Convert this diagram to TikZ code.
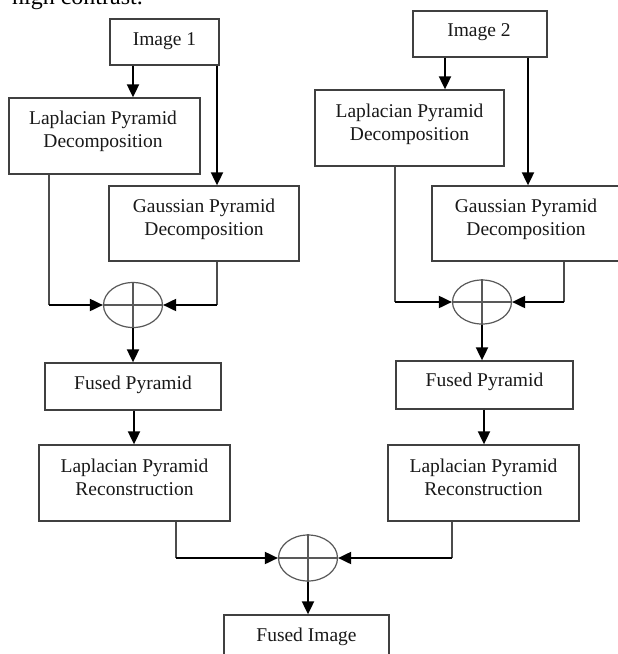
\documentclass[tikz,border=0pt]{standalone}
\usepackage{fontspec}
\setmainfont{Liberation Serif}
\usetikzlibrary{arrows.meta,shapes.geometric}
\tikzset{
  box/.style={draw=black!75, line width=1.3pt, inner sep=0pt, rectangle},
  lbl/.style={font=\fontsize{19.5}{23}\selectfont, align=center, inner sep=0pt, text=black!90},
  sumnode/.style={draw=black!65, line width=1.2pt, ellipse, inner sep=0pt, minimum width=59pt, minimum height=45pt},
  cross/.style={draw=black!65, line width=1.2pt},
  arr/.style={line width=1.9pt, black, -{Triangle[length=13pt,width=12pt]}},
  plain/.style={line width=1.3pt, black!70}
}
\begin{document}
\begin{tikzpicture}[x=1pt,y=-1pt]
\useasboundingbox (0,0) rectangle (618,654);
\clip (0,0) rectangle (618,654);
\fill[white] (0,0) rectangle (618,654);
% cut-off caption line above the figure
\node[font=\fontsize{24}{28}\selectfont, anchor=base east, inner sep=0pt] (cap) at (143,4) {high contrast.};
% boxes
\node[box, minimum width=109pt, minimum height=46pt] (img1) at (164.5,42) {};
\node[box, minimum width=134pt, minimum height=46pt] (img2) at (480,34) {};
\node[box, minimum width=191pt, minimum height=76pt] (lpd1) at (104.5,136) {};
\node[box, minimum width=190pt, minimum height=75pt] (gpd1) at (204,223.5) {};
\node[box, minimum width=189pt, minimum height=76pt] (lpd2) at (409.5,128) {};
\node[box, minimum width=190pt, minimum height=75pt] (gpd2) at (527,223.5) {};
\node[box, minimum width=176pt, minimum height=47pt] (fp1) at (133,386.5) {};
\node[box, minimum width=177pt, minimum height=48pt] (fp2) at (484.5,385) {};
\node[box, minimum width=191pt, minimum height=76pt] (lpr1) at (134.5,483) {};
\node[box, minimum width=191pt, minimum height=76pt] (lpr2) at (483.5,483) {};
\node[box, minimum width=165pt, minimum height=48pt] (fi) at (306.5,639) {};
% texts
\node[lbl] (t-img1) at (164.5,41) {Image 1};
\node[lbl] (t-img2) at (479,32) {Image 2};
\node[lbl] (t-lpd1) at (103,131) {Laplacian Pyramid\\Decomposition};
\node[lbl] (t-gpd1) at (204,219.5) {Gaussian Pyramid\\Decomposition};
\node[lbl] (t-lpd2) at (409.5,124) {Laplacian Pyramid\\Decomposition};
\node[lbl] (t-gpd2) at (526,219.5) {Gaussian Pyramid\\Decomposition};
\node[lbl] (t-fp1) at (133,385) {Fused Pyramid};
\node[lbl] (t-fp2) at (484.5,382) {Fused Pyramid};
\node[lbl] (t-lpr1) at (134.5,477.5) {Laplacian Pyramid\\Reconstruction};
\node[lbl] (t-lpr2) at (483.5,477.5) {Laplacian Pyramid\\Reconstruction};
\node[lbl] (t-fi) at (306.5,637) {Fused Image};
% summing junctions
\node[sumnode] (e1) at (133,305) {};
\node[sumnode, minimum height=44pt] (e2) at (482,302) {};
\node[sumnode, minimum height=46pt] (e3) at (308,558) {};
\foreach \e in {e1,e2,e3}{
  \draw[cross] (\e.north) -- (\e.south);
  \draw[cross] (\e.west) -- (\e.east);
}
% x positions of connectors
\coordinate (x133) at (133,0);
\coordinate (x134) at (134,0);
\coordinate (x217) at (217,0);
\coordinate (x445) at (445,0);
\coordinate (x528) at (528,0);
\coordinate (x49) at (49,0);
\coordinate (x395) at (395,0);
\coordinate (x564) at (564,0);
\coordinate (x176) at (176,0);
\coordinate (x452) at (452,0);
\coordinate (x484) at (484,0);
% top arrows
\draw[arr] (img1.south -| x133) -- (lpd1.north -| x133);
\draw[arr] (img1.south -| x217) -- (gpd1.north -| x217);
\draw[arr] (img2.south -| x445) -- (lpd2.north -| x445);
\draw[arr] (img2.south -| x528) -- (gpd2.north -| x528);
% into left sum
\coordinate (c1) at (e1.west -| x49);
\coordinate (c2) at (e1.east -| x217);
\draw[plain] (lpd1.south -| x49) -- (c1);
\draw[arr] (c1) -- (e1.west);
\draw[plain] (gpd1.south -| x217) -- (c2);
\draw[arr] (c2) -- (e1.east);
% into right sum
\coordinate (c3) at (e2.west -| x395);
\coordinate (c4) at (e2.east -| x564);
\draw[plain] (lpd2.south -| x395) -- (c3);
\draw[arr] (c3) -- (e2.west);
\draw[plain] (gpd2.south -| x564) -- (c4);
\draw[arr] (c4) -- (e2.east);
% down the columns
\draw[arr] (e1.south) -- (fp1.north -| e1.south);
\draw[arr] (fp1.south -| x134) -- (lpr1.north -| x134);
\draw[arr] (e2.south) -- (fp2.north -| e2.south);
\draw[arr] (fp2.south -| x484) -- (lpr2.north -| x484);
% into bottom sum
\coordinate (c5) at (e3.west -| x176);
\coordinate (c6) at (e3.east -| x452);
\draw[plain] (lpr1.south -| x176) -- (c5);
\draw[arr] (c5) -- (e3.west);
\draw[plain] (lpr2.south -| x452) -- (c6);
\draw[arr] (c6) -- (e3.east);
\draw[arr] (e3.south) -- (fi.north -| e3.south);
\end{tikzpicture}
\end{document}
